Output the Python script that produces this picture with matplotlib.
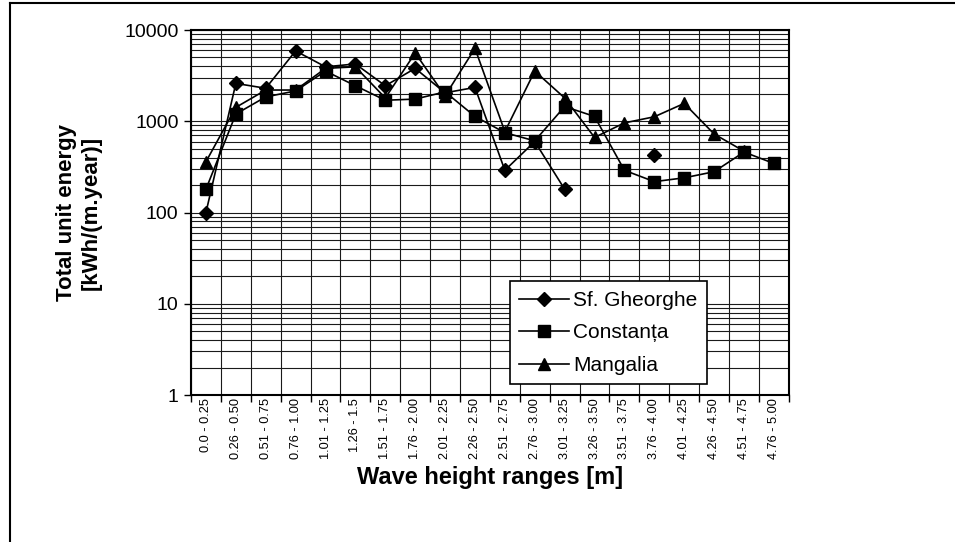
import numpy as np
import matplotlib.pyplot as plt
from matplotlib.lines import Line2D
from matplotlib.ticker import LogLocator, FixedLocator, NullFormatter

plt.rcParams['font.family'] = ['Liberation Sans', 'DejaVu Sans']

ranges = ['0.0 - 0.25', '0.26 - 0.50', '0.51 - 0.75', '0.76 - 1.00', '1.01 - 1.25',
          '1.26 - 1.5', '1.51 - 1.75', '1.76 - 2.00', '2.01 - 2.25', '2.26 - 2.50',
          '2.51 - 2.75', '2.76 - 3.00', '3.01 - 3.25', '3.26 - 3.50', '3.51 - 3.75',
          '3.76 - 4.00', '4.01 - 4.25', '4.26 - 4.50', '4.51 - 4.75', '4.76 - 5.00']
nan = np.nan
sf_gheorghe = [100, 2600, 2300, 5900, 3950, 4250, 2450, 3800, 2050, 2350,
               290, 600, 180, nan, nan, 430, nan, nan, nan, nan]
constanta = [180, 1200, 1850, 2150, 3550, 2450, 1700, 1750, 2100, 1130,
             750, 610, 1450, 1130, 290, 218, 240, 280, 460, 345]
mangalia = [360, 1420, 2200, 2200, 3800, 3950, 1800, 5600, 1900, 6300,
            770, 3550, 1800, 665, 960, 1120, 1570, 725, 470, nan]

fig = plt.figure(figsize=(9.55, 5.42), dpi=100)
ax = fig.add_axes([0.2, 0.2712, 0.626, 0.6734])

x = np.arange(len(ranges))
ax.plot(x, sf_gheorghe, color='black', lw=1.2, marker='D', ms=7, label='Sf. Gheorghe')
ax.plot(x, constanta, color='black', lw=1.2, marker='s', ms=8, label='Constanța')
ax.plot(x, mangalia, color='black', lw=1.2, marker='^', ms=9, label='Mangalia')

ax.set_yscale('log')
ax.set_ylim(1, 10000)
ax.set_xlim(-0.5, len(ranges) - 0.5)

ax.yaxis.set_minor_locator(LogLocator(base=10, subs=np.arange(2, 10), numticks=20))
ax.yaxis.set_minor_formatter(NullFormatter())
ax.set_yticks([1, 10, 100, 1000, 10000])
ax.set_yticklabels(['1', '10', '100', '1000', '10000'], fontsize=14)
ax.tick_params(axis='y', which='major', direction='out', length=5, width=1, pad=4)
ax.tick_params(axis='y', which='minor', length=0)

# category boundaries carry the ticks and vertical grid, labels sit in the middle
ax.xaxis.set_major_locator(FixedLocator(np.arange(-0.5, len(ranges), 1.0)))
ax.xaxis.set_major_formatter(NullFormatter())
ax.xaxis.set_minor_locator(FixedLocator(x))
ax.set_xticklabels(ranges, minor=True, rotation=90, fontsize=9.2)
ax.tick_params(axis='x', which='major', direction='out', length=5, width=1)
ax.tick_params(axis='x', which='minor', length=0, pad=2)

ax.grid(True, axis='y', which='both', color='0.1', lw=0.8)
ax.grid(True, axis='x', which='major', color='0.1', lw=0.8)
ax.set_axisbelow(True)
for s in ax.spines.values():
    s.set_linewidth(1.5)
    s.set_color('black')

ax.set_xlabel('Wave height ranges [m]', fontsize=17, fontweight='bold', va='center')
ax.xaxis.set_label_coords(0.5, -0.226)
ax.set_ylabel('Total unit energy\n[kWh/(m.year)]', fontsize=16, fontweight='bold',
              labelpad=16, linespacing=1.25)

leg = ax.legend(loc='upper left', bbox_to_anchor=(0.533, 0.311), fontsize=15,
                frameon=True, fancybox=False, edgecolor='black', framealpha=1,
                handlelength=2.4, labelspacing=0.65, borderpad=0.45,
                handletextpad=0.2, borderaxespad=0)
leg.get_frame().set_linewidth(1.2)

# page frame around the figure
fig.add_artist(Line2D([0.0105, 0.0105], [0, 0.995], color='black', lw=1.5,
                      transform=fig.transFigure))
fig.add_artist(Line2D([0.0105, 1.0], [0.995, 0.995], color='black', lw=1.5,
                      transform=fig.transFigure))

fig.savefig('out.png', dpi=100)
